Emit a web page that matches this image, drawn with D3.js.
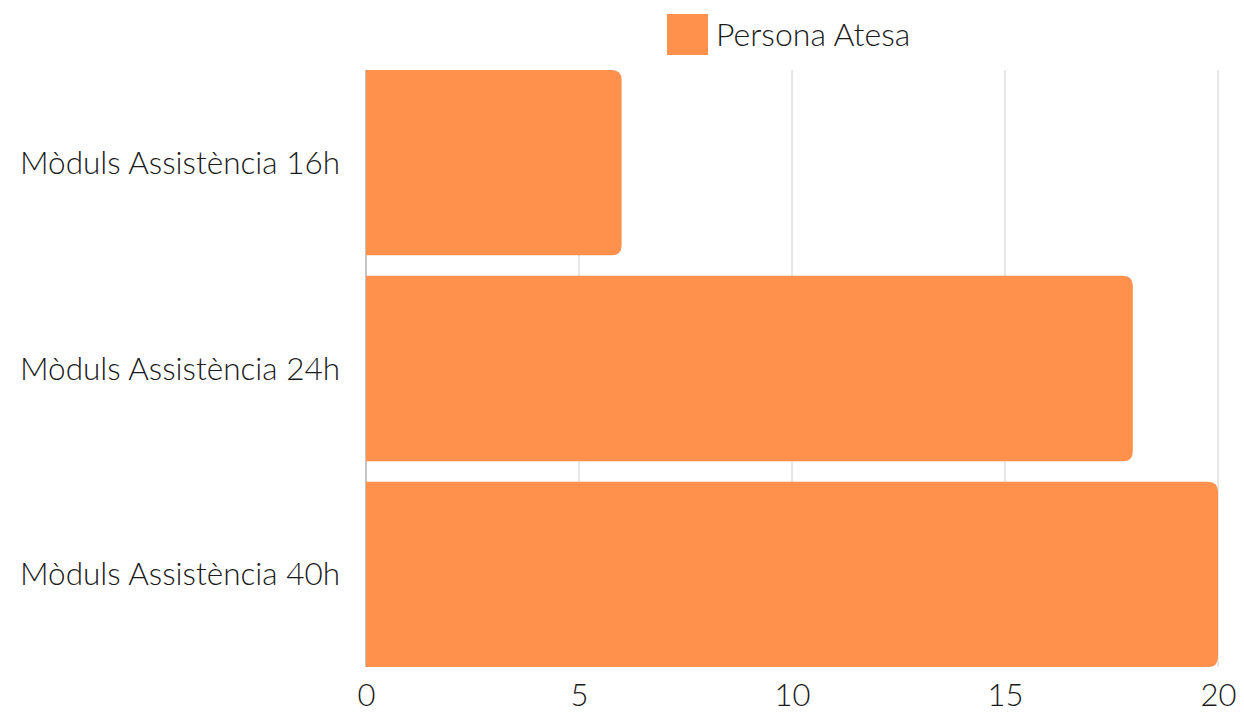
<!DOCTYPE html>
<html><head><meta charset="utf-8">
<script src="https://cdn.jsdelivr.net/npm/d3@7"></script>
<style>body{margin:0;background:#fff;}text{font-family:Lato,"Open Sans",sans-serif;font-weight:300;fill:#1a1a1a;}</style>
</head><body><svg id="c" width="1244" height="713"></svg>
<script>
const categories = ["Mòduls Assistència 16h", "Mòduls Assistència 24h", "Mòduls Assistència 40h"];
const values = [6, 18, 20];
const seriesName = "Persona Atesa";
const tickValues = [0, 5, 10, 15, 20];
const color = "#FF914D";

(function () {
const svg = d3.select("#c");
const mLeft = 366, mRight = 1218, mTop = 70, mBottom = 667;
const x = d3.scaleLinear().domain([0, 20]).range([mLeft, mRight]);
const y = d3.scaleBand().domain(categories).range([mTop, mBottom]).paddingInner(0.1).paddingOuter(0);

// gridlines
svg.append("g").selectAll("line").data(tickValues.filter(d => d > 0)).join("line")
  .attr("x1", d => x(d)).attr("x2", d => x(d)).attr("y1", mTop).attr("y2", mBottom)
  .attr("stroke", "#d0d0d0").attr("stroke-width", 1);
// axis line
svg.append("line").attr("x1", mLeft).attr("x2", mLeft).attr("y1", mTop).attr("y2", mBottom)
  .attr("stroke", "#888").attr("stroke-width", 1);

// bars with rounded right corners
const r = 10;
svg.append("g").selectAll("path").data(values).join("path")
  .attr("fill", color)
  .attr("d", (d, i) => {
    const x0 = x(0), x1 = x(d), y0 = y(categories[i]), h = y.bandwidth();
    return `M${x0},${y0}H${x1 - r}Q${x1},${y0} ${x1},${y0 + r}V${y0 + h - r}Q${x1},${y0 + h} ${x1 - r},${y0 + h}H${x0}Z`;
  });

// x axis labels
const xAxis = d3.axisBottom(x).tickValues(tickValues).tickSize(0).tickPadding(0);
const gx = svg.append("g").attr("transform", `translate(0,${mBottom})`).call(xAxis);
gx.select(".domain").remove();
gx.selectAll("text").attr("y", 39).attr("dy", 0).style("font-size", "31px").style("font-family", "Lato, sans-serif").style("fill", "#1a1a1a");

// y axis labels
const yAxis = d3.axisLeft(y).tickSize(0).tickPadding(0);
const gy = svg.append("g").attr("transform", `translate(340,0)`).call(yAxis);
gy.select(".domain").remove();
gy.selectAll("text").attr("dy", "0.35em").style("font-size", "31.5px").style("font-family", "Lato, sans-serif").style("fill", "#1a1a1a");

// legend
svg.append("rect").attr("x", 667).attr("y", 14).attr("width", 41).attr("height", 41).attr("fill", color);
svg.append("text").attr("x", 716).attr("y", 46).style("font-size", "32px").text(seriesName);
})();
</script></body></html>
